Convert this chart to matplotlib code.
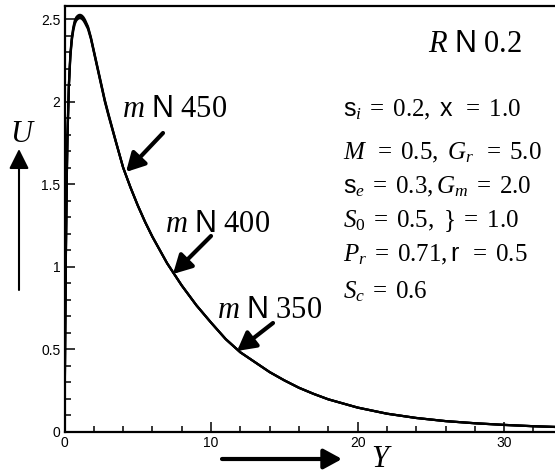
import matplotlib
matplotlib.use("Agg")
import matplotlib.pyplot as plt
from matplotlib.patches import FancyArrowPatch
from matplotlib.ticker import MultipleLocator

plt.rcParams["mathtext.fontset"] = "custom"
plt.rcParams["mathtext.rm"] = "Liberation Serif"
plt.rcParams["mathtext.it"] = "Liberation Serif:italic"
plt.rcParams["mathtext.sf"] = "Liberation Sans"
plt.rcParams["font.family"] = ["Liberation Sans", "DejaVu Sans"]

# Velocity profile U(Y) for three values of m
Y = [0, 0.05, 0.1, 0.15, 0.2, 0.3, 0.4, 0.5, 0.6, 0.7, 0.8, 0.9, 1.0, 1.1,
     1.2, 1.3, 1.4, 1.6, 1.8, 2.0, 2.25, 2.5, 2.75, 3.0, 3.5, 4.0, 4.5, 5.0,
     5.5, 6, 7, 8, 9, 10, 11, 12, 13, 14, 15, 16, 17, 18, 20, 22, 24, 26,
     28, 30, 32, 34]
U_m450 = [0, 0.63, 1.13, 1.51, 1.79, 2.11, 2.29, 2.39, 2.45, 2.49, 2.51,
          2.52, 2.525, 2.525, 2.52, 2.51, 2.495, 2.455, 2.39, 2.31, 2.21,
          2.11, 2.01, 1.925, 1.76, 1.60, 1.48, 1.37, 1.27, 1.18, 1.02,
          0.885, 0.765, 0.66, 0.56, 0.48, 0.42, 0.36, 0.31, 0.265, 0.228,
          0.195, 0.145, 0.108, 0.082, 0.063, 0.05, 0.04, 0.032, 0.026]
U_m400 = [0, 0.62, 1.12, 1.50, 1.78, 2.10, 2.28, 2.38, 2.44, 2.48, 2.50,
          2.51, 2.515, 2.515, 2.51, 2.50, 2.485, 2.45, 2.385, 2.305, 2.205,
          2.105, 2.005, 1.92, 1.76, 1.60, 1.48, 1.37, 1.27, 1.18, 1.02,
          0.885, 0.765, 0.66, 0.56, 0.48, 0.42, 0.36, 0.31, 0.265, 0.228,
          0.195, 0.145, 0.108, 0.082, 0.063, 0.05, 0.04, 0.032, 0.026]
U_m350 = [0, 0.61, 1.11, 1.49, 1.77, 2.09, 2.27, 2.37, 2.43, 2.47, 2.49,
          2.50, 2.505, 2.505, 2.50, 2.49, 2.475, 2.44, 2.38, 2.30, 2.20,
          2.10, 2.00, 1.915, 1.755, 1.60, 1.48, 1.37, 1.27, 1.18, 1.02,
          0.885, 0.765, 0.66, 0.56, 0.48, 0.42, 0.36, 0.31, 0.265, 0.228,
          0.195, 0.145, 0.108, 0.082, 0.063, 0.05, 0.04, 0.032, 0.026]

x_ticks = [0, 10, 20, 30]
y_ticks = [0, 0.5, 1, 1.5, 2, 2.5]
y_tick_labels = ["0", "0.5", "1", "1.5", "2", "2.5"]

W, H = 555, 475
fig = plt.figure(figsize=(W / 100, H / 100), dpi=100)


def fp(x, y):
    """Pixel position measured from the top-left corner -> figure fraction."""
    return (x / W, 1 - y / H)


ax = fig.add_axes([64.5 / W, 1 - 431.5 / H, 1 - 64.5 / W, (431.5 - 6) / H])
for u in (U_m350, U_m400, U_m450):
    ax.plot(Y, u, color="black", lw=1.6, solid_capstyle="butt")

ax.set_xlim(0, 33.47)
ax.set_ylim(0, 2.579)
ax.spines["right"].set_visible(False)
for s in ("left", "bottom", "top"):
    ax.spines[s].set_linewidth(1.6)

ax.set_xticks(x_ticks)
ax.set_xticklabels([str(t) for t in x_ticks])
ax.set_yticks(y_ticks)
ax.set_yticklabels(y_tick_labels)
ax.xaxis.set_minor_locator(MultipleLocator(2))
ax.yaxis.set_minor_locator(MultipleLocator(0.1))
ax.tick_params(which="both", direction="in", width=1.1, labelsize=10,
               top=False, right=False)
ax.tick_params(axis="x", which="major", length=7, pad=3)
ax.tick_params(axis="x", which="minor", length=4)
ax.tick_params(axis="y", which="major", length=7.5, pad=3)
ax.tick_params(axis="y", which="minor", length=4.5)

# Labels for the individual curves, with arrows pointing at them
arrow_kw = dict(arrowstyle="-|>,head_length=0.55,head_width=0.3",
                color="black", lw=3, mutation_scale=20, shrinkA=0, shrinkB=0)
curve_labels = [
    (r"$m\ \mathsf{N}\ 450$", (122, 117), (163, 133), (126, 172)),
    (r"$m\ \mathsf{N}\ 400$", (165, 232), (211, 236), (173, 274)),
    (r"$m\ \mathsf{N}\ 350$", (217, 318), (273, 323), (237, 351)),
]
for txt, tpos, tail, tip in curve_labels:
    fig.text(*fp(*tpos), txt, fontsize=22, ha="left", va="baseline")
    fig.add_artist(FancyArrowPatch(fp(*tail), fp(*tip),
                                   transform=fig.transFigure, **arrow_kw))

fig.text(*fp(428, 52), r"$R\ \mathsf{N}\ 0.2$", fontsize=22,
         ha="left", va="baseline")

params = [
    r"$\mathsf{s}_i\;=\;0.2,\ \mathsf{x}\;\;=\;1.0$",
    r"$M\;\;=\;0.5,\ G_r\;\;=\;5.0$",
    r"$\mathsf{s}_e\;=\;0.3, G_m\;=\;2.0$",
    r"$S_0\;=\;0.5,\ \}\;=\;1.0$",
    r"$P_r\;=\;0.71, \mathsf{r}\;\;=\;0.5$",
    r"$S_c\;=\;0.6$",
]
baselines = [116, 159, 193, 227, 261, 298]
for txt, yb in zip(params, baselines):
    fig.text(*fp(343, yb), txt, fontsize=18, ha="left", va="baseline")

# Axis titles with direction arrows
fig.text(*fp(23, 142), r"$U$", fontsize=22, ha="center", va="baseline")
fig.add_artist(FancyArrowPatch(
    fp(19, 290), fp(19, 149), transform=fig.transFigure,
    arrowstyle="-|>,head_length=0.6,head_width=0.3", color="black",
    lw=1.5, mutation_scale=20, shrinkA=0, shrinkB=0))
fig.text(*fp(382, 467), r"$Y$", fontsize=22, ha="center", va="baseline")
fig.add_artist(FancyArrowPatch(
    fp(222, 459), fp(342, 459), transform=fig.transFigure,
    arrowstyle="-|>,head_length=0.55,head_width=0.3", color="black",
    lw=3, mutation_scale=20, shrinkA=0, shrinkB=0))

fig.savefig("out.png", dpi=100)
